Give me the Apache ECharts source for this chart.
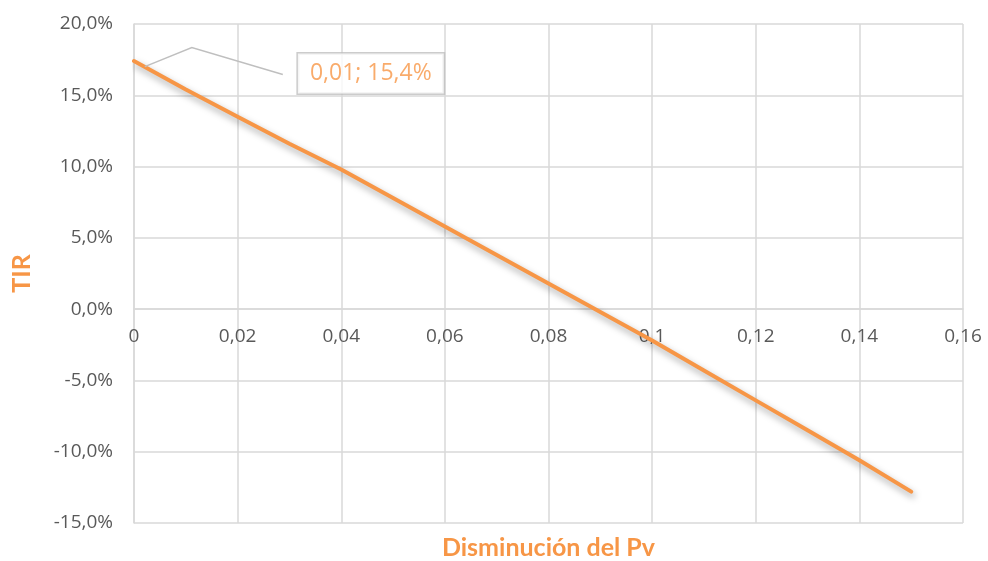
<!DOCTYPE html>
<html>
<head>
<meta charset="utf-8">
<script src="https://cdn.jsdelivr.net/npm/echarts@6/dist/echarts.min.js"></script>
<style>
  html, body { margin: 0; padding: 0; background: #ffffff; }
  #chart { width: 988px; height: 561px; }
</style>
</head>
<body>
<div id="chart"></div>
<script>
// Disminución del precio de venta (fracción) frente a la TIR resultante (%)
const disminucion = [0, 0.01, 0.02, 0.03, 0.04, 0.05, 0.06, 0.07, 0.08, 0.09, 0.10, 0.11, 0.12, 0.13, 0.14, 0.15];
const tir = [17.4, 15.4, 13.5, 11.6, 9.8, 7.8, 5.8, 3.8, 1.8, -0.2, -2.2, -4.3, -6.4, -8.5, -10.6, -12.8];

// Punto destacado con etiqueta
const puntoEtiqueta = 1;

const xTitulo = 'Disminución del Pv';
const yTitulo = 'TIR';

const yMin = -15, yMax = 20, yPaso = 5;

const naranja = '#F79646';
const gris = '#595959';
const rejilla = '#D9D9D9';
const fuenteEje = '"Open Sans", sans-serif';
const fuenteTitulo = 'Lato, "Open Sans", sans-serif';

const fmtX = v => (v === 0 ? '0' : String(+v.toFixed(2)).replace('.', ','));
const fmtY = v => v.toFixed(1).replace('.', ',') + '%';

const chart = echarts.init(document.getElementById('chart'), null, { renderer: 'canvas' });

const etiquetaX = disminucion[puntoEtiqueta];
const etiquetaY = tir[puntoEtiqueta];

chart.setOption({
  animation: false,
  backgroundColor: '#ffffff',
  grid: { left: 134, right: 25, top: 24, bottom: 38, containLabel: false, outerBoundsMode: 'none' },
  xAxis: {
    type: 'value',
    position: 'bottom',
    min: 0, max: 0.16, interval: 0.02,
    name: xTitulo,
    nameLocation: 'middle',
    nameGap: 226,
    nameTextStyle: { color: naranja, fontSize: 25, fontWeight: 'bold', fontFamily: fuenteTitulo },
    axisLine: { show: true, onZero: false, lineStyle: { color: rejilla, width: 1.5 } },
    axisTick: { show: false },
    axisLabel: { color: gris, fontSize: 19, margin: 18, formatter: fmtX, fontFamily: fuenteEje },
    splitLine: { show: true, lineStyle: { color: rejilla, width: 1.5 } }
  },
  yAxis: {
    type: 'value',
    min: yMin, max: yMax, interval: yPaso,
    name: yTitulo,
    nameLocation: 'middle',
    nameGap: 100,
    nameRotate: 90,
    nameTextStyle: { color: naranja, fontSize: 25, fontWeight: 'bold', fontFamily: fuenteTitulo },
    axisLine: { show: true, onZero: false, lineStyle: { color: rejilla, width: 1.5 } },
    axisTick: { show: false },
    axisLabel: { color: gris, fontSize: 19, margin: 21, formatter: fmtY, fontFamily: fuenteEje },
    splitLine: { show: true, lineStyle: { color: rejilla, width: 1.5 } }
  },
  series: [
    {
      type: 'line',
      data: disminucion.map((x, i) => [x, tir[i]]),
      showSymbol: false,
      symbol: 'none',
      lineStyle: {
        color: naranja, width: 4, cap: 'round',
        shadowColor: 'rgba(0,0,0,0.35)', shadowBlur: 7, shadowOffsetX: 2, shadowOffsetY: 4
      },
      z: 3
    },
    {
      type: 'scatter',
      data: [[etiquetaX, etiquetaY]],
      symbolSize: 0,
      silent: true,
      label: {
        show: true,
        position: 'inside',
        offset: [185, -16],
        formatter: () => fmtX(etiquetaX) + '; ' + fmtY(etiquetaY),
        color: naranja,
        fontSize: 23,
        fontFamily: fuenteEje,
        backgroundColor: '#ffffff',
        borderColor: '#BFBFBF',
        borderWidth: 1.5,
        padding: [9, 12, 8, 12]
      },
      z: 5
    }
  ]
});

// El eje X cruza el eje Y en el 0 %: se desplaza desde el borde inferior
const yCero = chart.convertToPixel({ yAxisIndex: 0 }, 0);
const yBase = chart.convertToPixel({ yAxisIndex: 0 }, yMin);

// Línea guía de la etiqueta, anclada al punto destacado
const p = chart.convertToPixel({ gridIndex: 0 }, [etiquetaX, etiquetaY]);
chart.setOption({
  xAxis: { offset: -(yBase - yCero) },
  graphic: [{
    type: 'polyline',
    shape: { points: [[p[0] - 41, p[1] - 23], [p[0] + 6, p[1] - 42], [p[0] + 97, p[1] - 15]] },
    style: { stroke: '#BFBFBF', lineWidth: 1.5, fill: null },
    z: 4
  }]
});
</script>
</body>
</html>
